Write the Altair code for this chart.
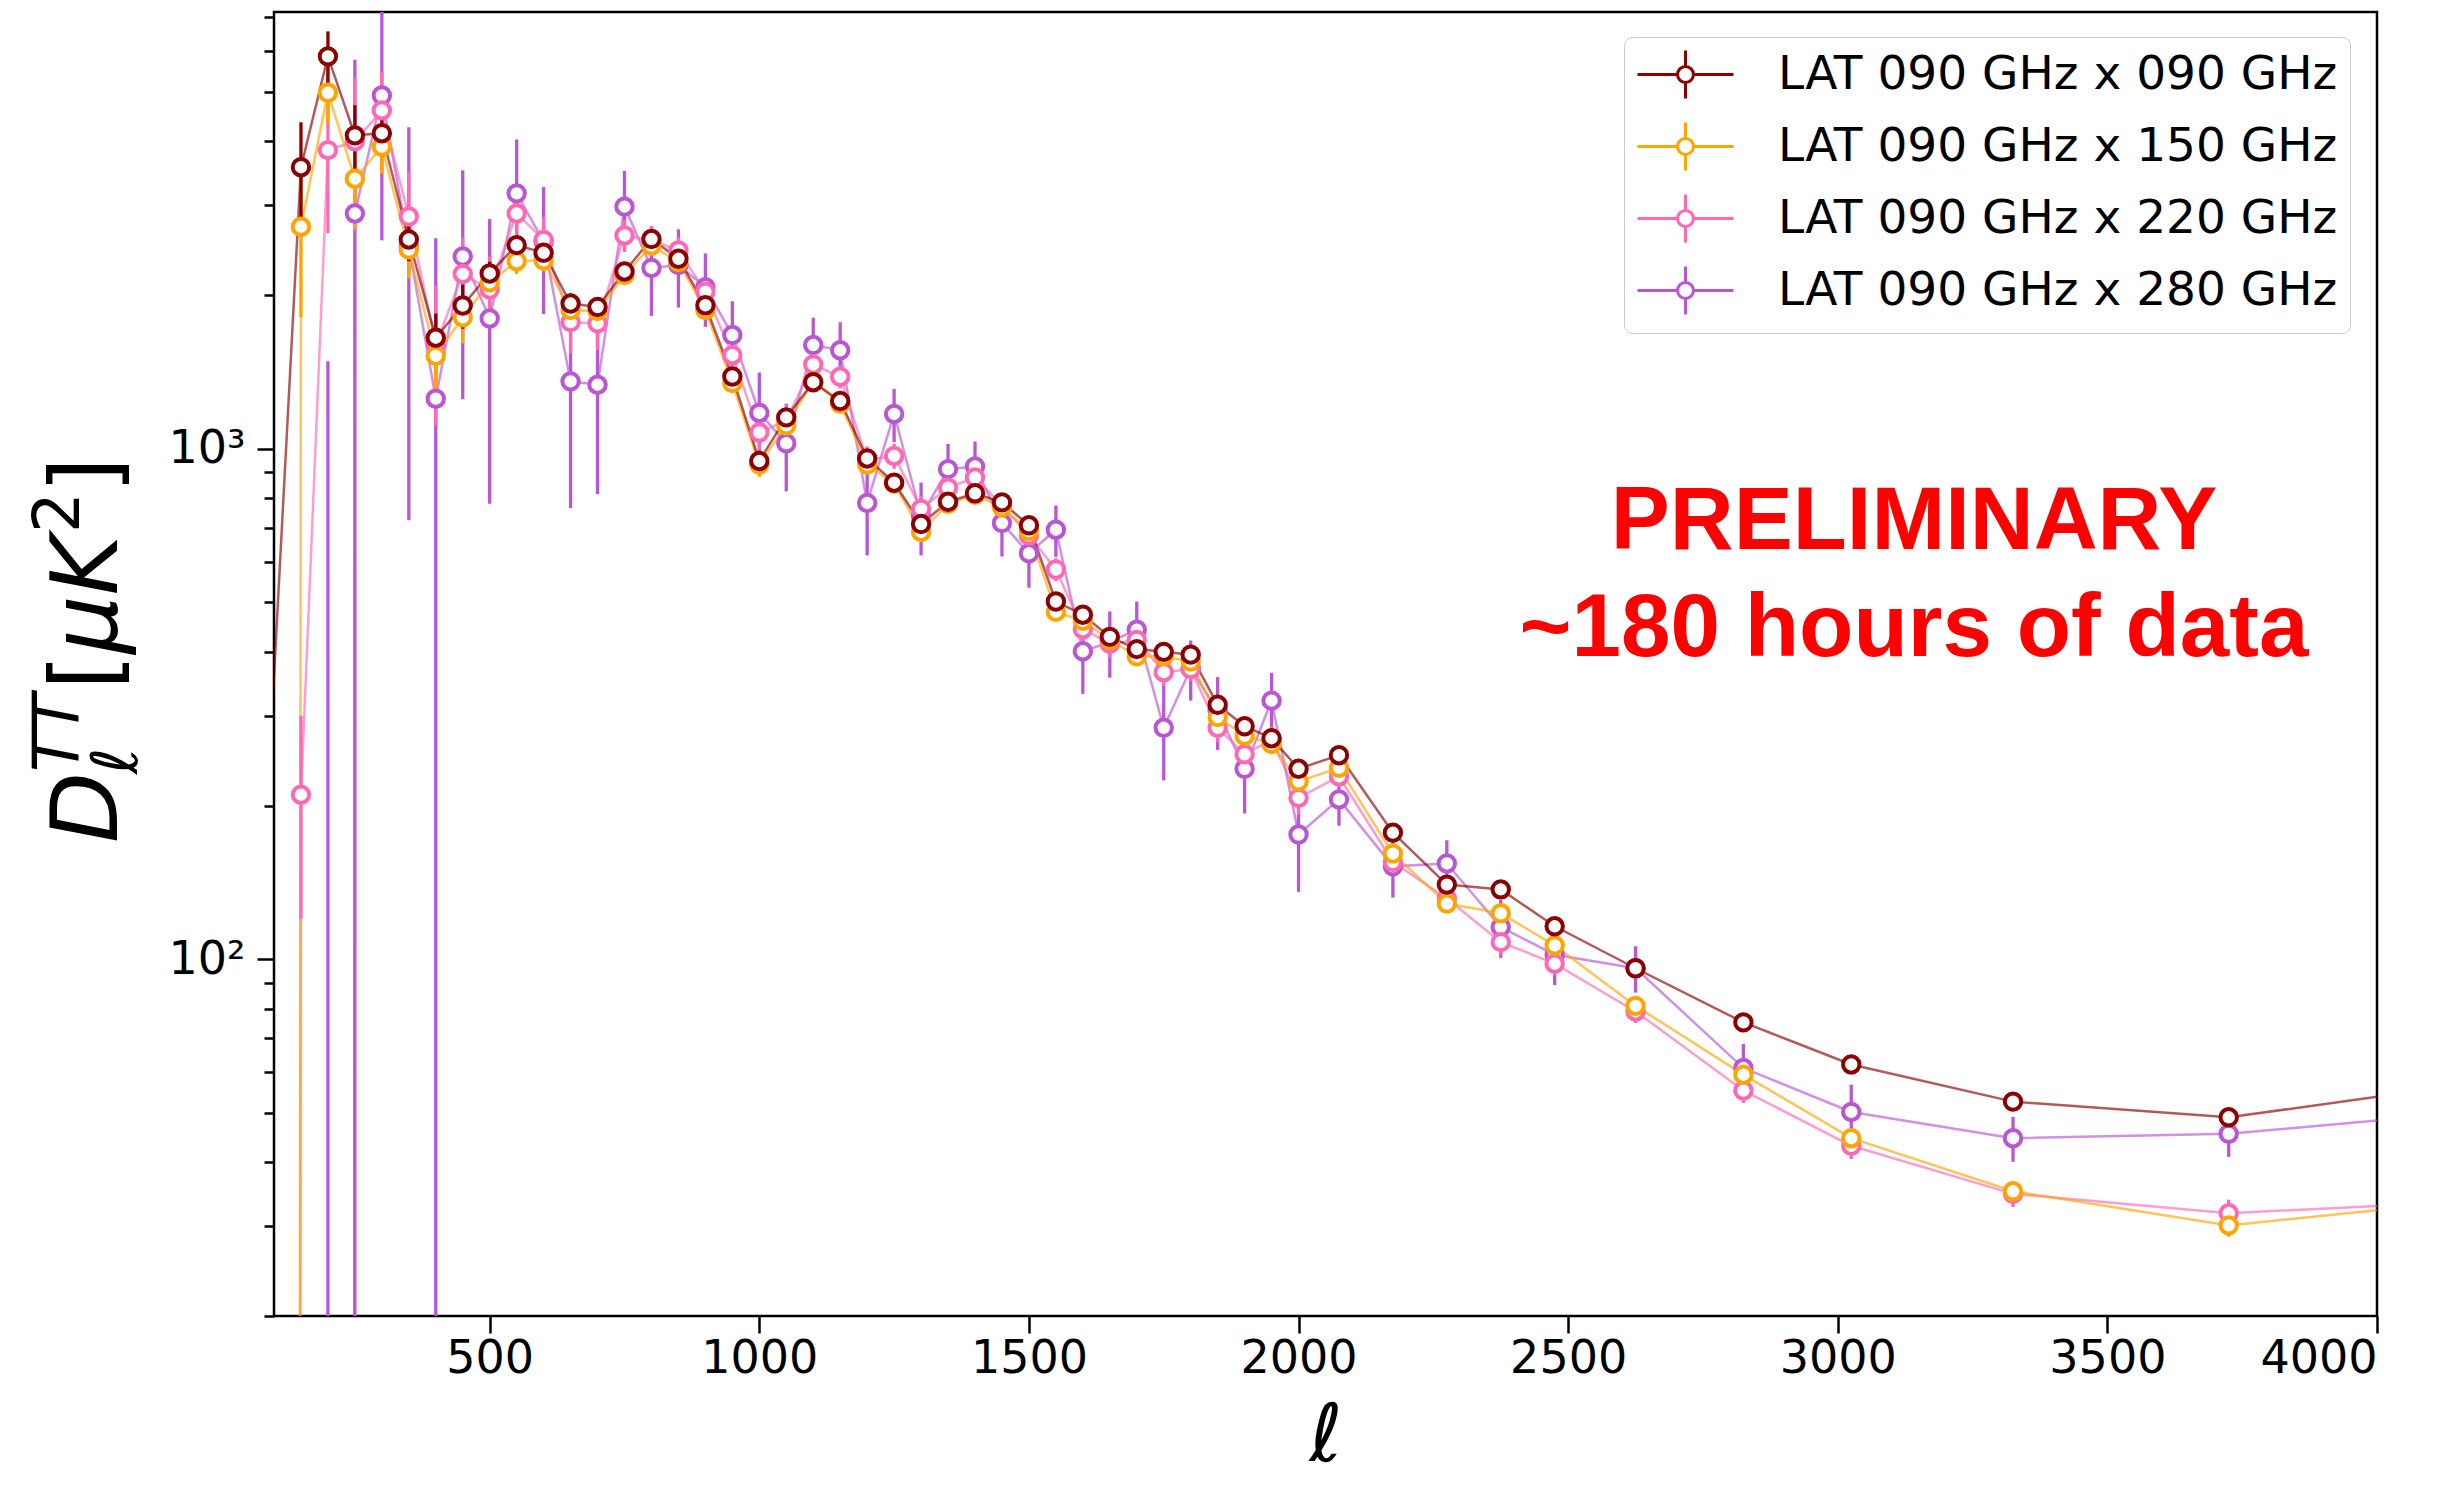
import altair as alt
import pandas as pd
import numpy as np

# multipole bin centres
ell = [50, 150, 200, 250, 300, 350, 400, 450, 500, 550, 600, 650, 700, 750, 800, 850,
       900, 950, 1000, 1050, 1100, 1150, 1200, 1250, 1300, 1350, 1400, 1450, 1500,
       1550, 1600, 1650, 1700, 1750, 1800, 1850, 1900, 1950, 2000, 2075, 2175, 2275,
       2375, 2475, 2625, 2825, 3025, 3325, 3725, 4225]

series_names = ["LAT 090 GHz x 090 GHz", "LAT 090 GHz x 150 GHz",
                "LAT 090 GHz x 220 GHz", "LAT 090 GHz x 280 GHz"]
series_colors = ["#8B0000", "#FFA500", "#FF69B4", "#BA55D3"]

# D_ell^TT values [uK^2] (negative = below zero, not drawn on log axis)
d090 = [36, 3560, 5870, 4110, 4150, 2570, 1650, 1908, 2205, 2505, 2420, 1925, 1895, 2225,
        2575, 2355, 1910, 1385, 946, 1152, 1350, 1240, 957, 858, 712, 787, 818, 785, 708,
        502, 473, 428, 405, 400, 395, 315, 286, 271, 236, 251, 177, 140, 137, 116, 96,
        75.2, 62.2, 52.6, 49.0, 58]
e090 = [5, 800, 700, 600, 420, 240, 190, 190, 120, 110, 100, 90, 85, 80, 75, 70, 60, 50,
        45, 40, 38, 35, 30, 27, 24, 22, 20, 19, 18, 16, 15, 14, 13, 12, 12, 11, 10, 10, 9,
        7, 5, 4, 4, 3, 2.5, 2, 1.5, 1.2, 1.2, 1.2]

d150 = [-100, 2722, 4980, 3380, 3905, 2455, 1520, 1809, 2118, 2330, 2340, 1870, 1860, 2190,
        2500, 2320, 1870, 1345, 931, 1111, 1355, 1225, 931, 855, 687, 780, 812, 768, 690,
        479, 460, 422, 392, 392, 383, 298, 274, 264, 223, 237, 161, 128.5, 123, 106.4, 81,
        59.4, 44.6, 35.1, 30.1, 34.1]
e150 = [50, 913, 650, 680, 450, 300, 230, 200, 140, 130, 115, 100, 95, 90, 85, 80, 70, 60,
        50, 45, 42, 40, 34, 30, 27, 25, 23, 21, 20, 18, 17, 16, 15, 14, 13, 12, 11, 11, 10,
        8, 6, 5, 4.5, 4, 3, 2.5, 2, 1.5, 1.5, 1.5]

d220 = [-100, 210, 3845, 4000, 4600, 2850, 1600, 2200, 2050, 2890, 2565, 1770, 1760, 2617,
        2560, 2445, 2030, 1525, 1076, 1137, 1462, 1383, 950, 968, 762, 839, 878, 774, 676,
        580, 443, 415, 422, 365, 370, 284, 252, 269, 207, 228, 155, 131.5, 108, 98, 79,
        55.3, 43.1, 34.7, 31.8, 33.7]
e220 = [50, 90, 1200, 1330, 870, 640, 490, 390, 330, 300, 280, 230, 200, 190, 170, 150, 130,
        110, 90, 80, 75, 70, 60, 55, 48, 44, 40, 37, 34, 30, 28, 26, 24, 22, 20, 18, 17, 16,
        15, 10, 8, 7, 6, 5, 4, 3, 2.5, 2, 2, 2]

d280 = [-100, -100, -300, 2890, 4920, 2494, 1253, 2380, 1800, 3164, 2545, 1355, 1335, 2980,
        2260, 2290, 2073, 1670, 1175, 1025, 1596, 1559, 783, 1170, 738, 912, 923, 715, 624,
        694, 401, 418, 442, 284, 371, 307, 236, 321, 175.5, 205.6, 152, 154, 115.6, 102, 96,
        61.2, 50.2, 44.6, 45.5, 50.7]
e280 = [50, 50, 1784, 2890, 2360, 1770, 1330, 1130, 1020, 870, 710, 590, 520, 520, 440, 400,
        340, 275, 235, 200, 210, 210, 165, 140, 120, 110, 110, 100, 90, 80, 70, 62, 60, 60,
        50, 50, 43, 43, 40, 23, 20, 17, 15, 13, 10, 7, 6.6, 4.5, 4.5, 5]

x_ticks = [500, 1000, 1500, 2000, 2500, 3000, 3500, 4000]
y_ticks = [20, 30, 40, 50, 60, 70, 80, 90, 100, 200, 300, 400, 500, 600, 700, 800, 900,
           1000, 2000, 3000, 4000, 5000, 6000, 7000]

TINY = 1e-100  # stands in for non-positive values on the log axis (clipped)

frames = []
for name, vals, errs in zip(series_names[::-1],
                            [d280, d220, d150, d090], [e280, e220, e150, e090]):
    v = np.array(vals, dtype=float)
    e = np.array(errs, dtype=float)
    lo = v - e
    hi = v + e
    frames.append(pd.DataFrame({
        "ell": ell,
        "series": name,
        "val": v,
        "yline": np.where(v > 0, v, TINY),
        "lo": np.where(lo > 0, lo, TINY),
        "hi": hi,
    }))
df = pd.concat(frames, ignore_index=True)

FONT = "DejaVu Sans"
W, H = 2103, 1304

xscale = alt.Scale(domain=[100, 4000], nice=False, zero=False)
yscale = alt.Scale(type="log", domain=[20, 7170], nice=False)
cscale = alt.Scale(domain=series_names, range=series_colors)

x_enc = alt.X("ell:Q", scale=xscale,
              axis=alt.Axis(values=x_ticks, format="d", tickSize=17, tickWidth=2.5,
                            tickColor="black", labelFont=FONT, labelFontSize=46,
                            labelColor="black", labelPadding=3, domain=False, grid=False,
                            title="ℓ", titleFont=FONT, titleFontStyle="italic",
                            titleFontWeight="normal", titleFontSize=80, titleColor="black",
                            titleBaseline="alphabetic", titleY=144))
y_axis = alt.Axis(values=y_ticks,
                  labelExpr="datum.value == 100 ? '10²' : (datum.value == 1000 ? '10³' : '')",
                  tickSize={"condition": {"test": "datum.value == 100 || datum.value == 1000",
                                          "value": 17}, "value": 10},
                  tickWidth=2.5, tickColor="black", labelFont=FONT, labelFontSize=46,
                  labelColor="black", labelPadding=12, domain=False, grid=False, title=None)

# errorbar-style legend glyph: horizontal line, vertical bar, open circle
legend_symbol = ("M-1,0H0.667M1.333,0H3M1,-1V-0.333M1,0.333V1"
                 "M1.333,0A0.333,0.333 0 1,1 0.667,0A0.333,0.333 0 1,1 1.333,0Z")
leg = alt.Legend(title=None, orient="none", legendX=1350, legendY=25,
                 labelFont=FONT, labelFontSize=47, labelColor="black",
                 labelLimit=2000, symbolType=legend_symbol,
                 symbolSize=2304, symbolStrokeWidth=3,
                 symbolFillColor="white", symbolOpacity=1, rowPadding=11, padding=12,
                 labelOffset=91, strokeColor="#cccccc",
                 fillColor="white", cornerRadius=8)
color_enc = alt.Color("series:N", scale=cscale, legend=leg)

base = alt.Chart(df)

lines = base.mark_line(clip=True, strokeWidth=2.5, opacity=0.65).encode(
    x=x_enc,
    y=alt.Y("yline:Q", scale=yscale, axis=y_axis),
    color=color_enc,
    order="ell:Q",
)

errbars = base.transform_filter("datum.hi > 0").mark_rule(clip=True, strokeWidth=3.3).encode(
    x="ell:Q",
    y=alt.Y("lo:Q", scale=yscale),
    y2="hi:Q",
    color=color_enc,
)

points = base.transform_filter("datum.val > 0").mark_point(
    clip=True, shape="circle", filled=False, fill="white", size=270, strokeWidth=4,
    opacity=1).encode(
    x="ell:Q",
    y=alt.Y("val:Q", scale=yscale),
    color=color_enc,
)

def label(text, x, y, size, style="normal", weight="normal", angle=0, align="left",
          color="black", font=FONT):
    return alt.Chart(pd.DataFrame({"t": [text]})).mark_text(
        font=font, fontSize=size, fontStyle=style, fontWeight=weight, angle=angle,
        align=align, baseline="alphabetic", color=color).encode(
        text="t:N", x=alt.value(x), y=alt.value(y))

# y-axis title D_ell^{TT}[mu K^2], rotated
ytitle = [
    label("D", -157, 831, 92, style="italic", angle=270),
    label("TT", -195, 760, 64, style="italic", angle=270),
    label("ℓ", -137, 762, 64, style="italic", angle=270),
    label("[", -157, 678, 92, angle=270),
    label("μK", -157, 642, 92, style="italic", angle=270),
    label("2", -195, 521, 64, angle=270),
    label("]", -157, 481, 92, angle=270),
]

notes = [
    label("PRELIMINARY", 1640, 537, 88.5, weight="bold", align="center", color="#FF0000",
          font="Liberation Sans"),
    label("~180 hours of data", 1640, 644, 89, weight="bold", align="center",
          color="#FF0000", font="Liberation Sans"),
]

chart = alt.layer(lines, errbars, points, *ytitle, *notes).properties(
    width=W, height=H,
    autosize=alt.AutoSizeParams(type="none"),
    padding={"left": 266, "top": 4, "right": 60, "bottom": 165},
    background="white",
).configure_view(stroke="black", strokeWidth=2.5)

chart.save("out.html", embed_options={"renderer": "svg", "actions": False})
